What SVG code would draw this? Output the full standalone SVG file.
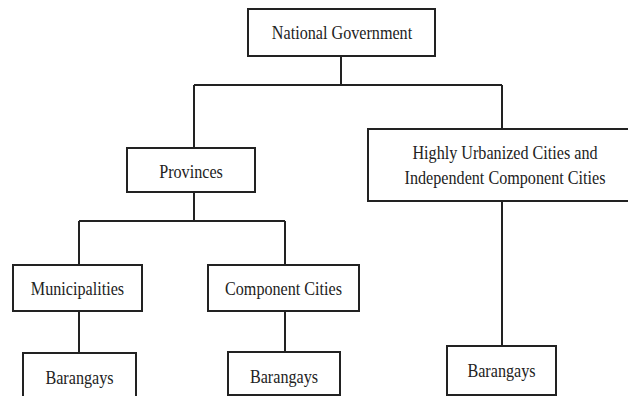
<svg xmlns="http://www.w3.org/2000/svg" width="628" height="396" viewBox="0 0 628 396">
<style>
.box{fill:#fff;stroke:#222;stroke-width:2}
.ln{fill:none;stroke:#222;stroke-width:2}
.t{font-family:"Liberation Serif","Times New Roman",serif;font-size:19px;fill:#222;text-anchor:middle}
</style>
<rect width="628" height="396" fill="#fff"/>
<g id="connectors">
<path class="ln" d="M341,56 V85 M194,85 H502 M194,85 V148 M502,85 V129"/>
<path class="ln" d="M194,192 V221 M79,221 H285 M79,221 V265 M285,221 V265"/>
<path class="ln" d="M79,311 V353 M285,311 V352 M502,201 V346"/>
</g>
<g id="national">
<rect class="box" x="248" y="9" width="187" height="47"/>
<text class="t" transform="translate(342,39) scale(0.85,1)">National Government</text>
</g>
<g id="provinces">
<rect class="box" x="127" y="148" width="128" height="44"/>
<text class="t" transform="translate(191,177.5) scale(0.85,1)">Provinces</text>
</g>
<g id="huc">
<rect class="box" x="368" y="129" width="272" height="72"/>
<text class="t" transform="translate(505,158.5) scale(0.85,1)">Highly Urbanized Cities and</text>
<text class="t" transform="translate(505,183.5) scale(0.85,1)">Independent Component Cities</text>
</g>
<g id="municipalities">
<rect class="box" x="13" y="265" width="129" height="46"/>
<text class="t" transform="translate(77.5,294.5) scale(0.85,1)">Municipalities</text>
</g>
<g id="componentcities">
<rect class="box" x="208" y="265" width="151" height="46"/>
<text class="t" transform="translate(283.5,294.5) scale(0.85,1)">Component Cities</text>
</g>
<g id="barangays1">
<rect class="box" x="23" y="353" width="113" height="50"/>
<text class="t" transform="translate(79.5,383.5) scale(0.85,1)">Barangays</text>
</g>
<g id="barangays2">
<rect class="box" x="228" y="352" width="112" height="43"/>
<text class="t" transform="translate(284,382.5) scale(0.85,1)">Barangays</text>
</g>
<g id="barangays3">
<rect class="box" x="447" y="346" width="109" height="49"/>
<text class="t" transform="translate(501.5,376.5) scale(0.85,1)">Barangays</text>
</g>
</svg>
